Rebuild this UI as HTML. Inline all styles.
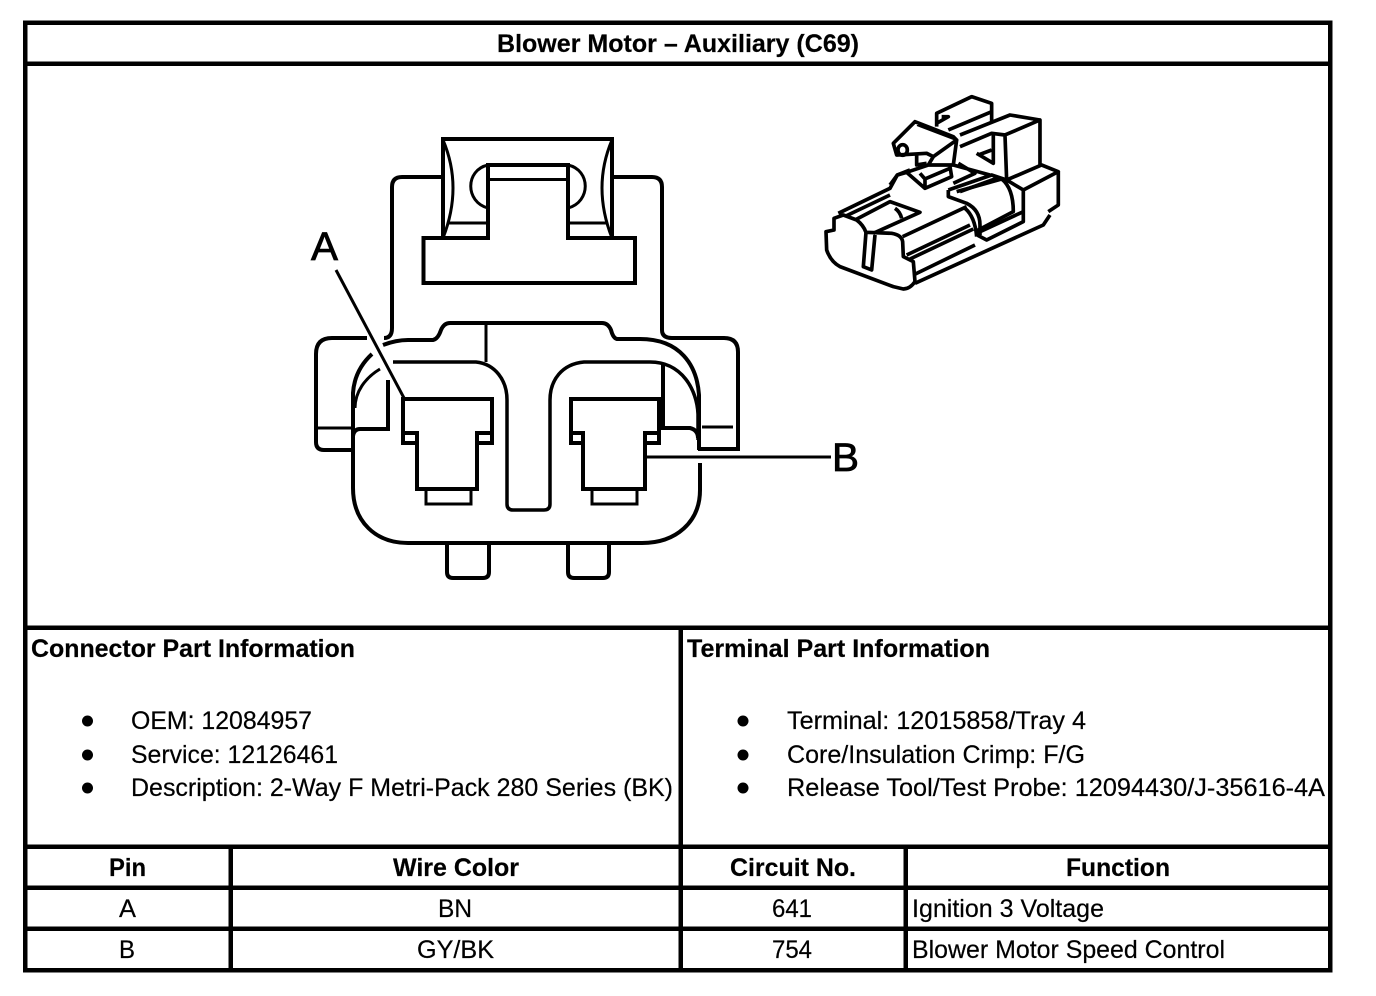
<!DOCTYPE html>
<html><head><meta charset="utf-8"><style>
html,body{margin:0;padding:0;background:#fff;width:1376px;height:996px;overflow:hidden}
svg{display:block}
text{font-family:"Liberation Sans",sans-serif;font-size:25px;fill:#000;stroke:#000;stroke-width:.2}
.b{font-weight:bold}
.f{stroke:#000;stroke-width:4.5;fill:none;shape-rendering:crispEdges}
.d path,.d rect,.d circle,.d line{fill:none;stroke:#000;stroke-width:4}
.t path,.t ellipse{fill:none;stroke:#000;stroke-width:11;stroke-linejoin:round}
</style></head><body>
<svg width="1376" height="996" viewBox="0 0 1376 996" xmlns="http://www.w3.org/2000/svg">
<!-- frame -->
<rect class="f" x="25" y="22.5" width="1305" height="947.5"/>
<path class="f" d="M25 63.5H1330M25 627.5H1330M25 846.5H1330M25 887.5H1330M25 928.5H1330M680.5 627.5V970M230.5 846.5V970M905.5 846.5V970"/>

<!-- connector front view -->
<g class="d">
<!-- latch -->
<path d="M443 238V139H612V238"/>
<path d="M443 140Q463 187 443 238M612 140Q592 187 612 238" style="stroke-width:3"/>
<path d="M423.500 238H488V165H568V238H635V283H423.500Z"/>
<path d="M488 179.500H568M448 223H488M568 223H608" style="stroke-width:3"/>
<path d="M488 165C465 170 465 202 488 208M568 165C591 170 591 202 568 208" style="stroke-width:3"/>
<!-- housing upper -->
<path d="M442 177H402Q392 177 392 187V328Q392 338 384 338M367 338H332Q316 338 316 354V442Q316 450 324 450H352"/>
<path d="M612 177H652Q662 177 662 187V330Q662 338 672 338H724Q738 338 738 352V449H698"/>
<path d="M316 428H352M702 427H733" style="stroke-width:3"/>
<!-- main body -->
<path d="M372 354C360 365 354 378 353 393V488C353 522 376 543 408 543H642C676 543 700 522 700 490V463M699 450V395C697 365 680 339 640 339H617Q613 338 611 330Q608 323 602 323H450Q444 323 441 330Q438 339 433 340H408Q396 340 383 345"/>
<path d="M486 323V362" style="stroke-width:3"/>
<!-- inner -->
<path d="M393 362H476C495 364 507 380 507 400V504Q507 510 513 510H544Q550 510 550 504V400C550 380 562 364 584 362H650C682 362 697 390 698 414V440" style="stroke-width:3.500"/>
<path d="M380 369C365 378 355 392 355 408" style="stroke-width:3"/>
<path d="M388 380V429H360Q354 429 353 436"/>
<path d="M663 365V428H690Q698 430 698 438"/>
<!-- terminals -->
<path d="M417 433H403V399H492V433H477V489H417Z"/>
<path d="M403 433V443H417M492 433V443H477"/>
<rect x="426" y="489" width="45" height="15" style="stroke-width:3"/>
<path d="M583 433H571V399H659V433H645V489H583Z"/>
<path d="M571 433V443H583M659 433V443H645"/>
<rect x="592" y="489" width="45" height="15" style="stroke-width:3"/>
<!-- tabs -->
<path d="M447 544V572Q447 578 453 578H483Q489 578 489 572V544M568 544V572Q568 578 574 578H603Q609 578 609 572V544"/>
<!-- leaders -->
<path d="M336 270L404 398" style="stroke-width:3"/>
<path d="M646 457H831" style="stroke-width:3"/>
</g>
<text x="311" y="260" style="font-size:40px;stroke-width:.8" textLength="27" lengthAdjust="spacingAndGlyphs">A</text>
<text x="832" y="471" style="font-size:40px;stroke-width:.8" textLength="27" lengthAdjust="spacingAndGlyphs">B</text>

<!-- connector 3D view -->
<g class="t" transform="translate(810 85) scale(.3333)">
<path d="M72 400L100 390L140 405Q160 420 168 442L245 445Q275 450 278 470L280 515L310 530L315 590Q300 612 280 612L250 605L90 545Q62 530 50 495L48 440L72 435Z"/>
<path d="M168 442L160 545L185 555L195 450"/>
<path d="M85 385L240 310L262 270L300 255M110 392L240 330"/>
<path d="M135 405L240 350L330 382L190 445M255 370Q270 380 275 400"/>
<path d="M278 455L470 365M290 510L480 420M300 522L490 432M310 570L495 480M315 595L700 420L720 390"/>
<path d="M415 315V335L470 355Q510 375 510 420V450M465 370Q495 395 500 455"/>
<path d="M415 315L545 270L590 285M440 320L575 282Q610 310 610 380L505 435V452L530 465L640 410V315L745 260L695 240L590 285L640 315M745 260V360L715 380"/>
<path d="M590 285L585 150L545 145L450 185M585 150L690 105V240M450 150L600 90L690 105"/>
<path d="M500 205L550 235V145M505 210L545 195"/>
<path d="M380 125V85L485 35L545 55V110M380 115L415 95H395M415 135L545 80"/>
<path d="M315 110L250 175L260 210L300 208L350 205L370 215L440 165L430 155ZM440 165L430 240M370 215L355 240M320 205V240L350 235M322 118L438 162"/>
<ellipse cx="278" cy="195" rx="14" ry="16"/>
<path d="M240 300L262 270L290 262L345 310L425 275L420 245M345 285V310M330 265L345 282L420 250M290 262L355 240H430L540 270M445 235L495 265L430 295"/>
<path d="M510 440L640 380M450 320L560 280"/>
</g>

<!-- text -->
<text class="b" x="497" y="52" textLength="362" lengthAdjust="spacingAndGlyphs">Blower Motor – Auxiliary (C69)</text>
<text class="b" x="31" y="657" textLength="324" lengthAdjust="spacingAndGlyphs">Connector Part Information</text>
<text class="b" x="687" y="657" textLength="303" lengthAdjust="spacingAndGlyphs">Terminal Part Information</text>
<g fill="#000"><circle cx="87.500" cy="721" r="5.500"/><circle cx="87.500" cy="755" r="5.500"/><circle cx="87.500" cy="788" r="5.500"/><circle cx="743" cy="721" r="5.500"/><circle cx="743" cy="755" r="5.500"/><circle cx="743" cy="788" r="5.500"/></g>
<text x="131" y="729" textLength="181" lengthAdjust="spacingAndGlyphs">OEM: 12084957</text>
<text x="131" y="763" textLength="207" lengthAdjust="spacingAndGlyphs">Service: 12126461</text>
<text x="131" y="796" textLength="542" lengthAdjust="spacingAndGlyphs">Description: 2-Way F Metri-Pack 280 Series (BK)</text>
<text x="787" y="729" textLength="299" lengthAdjust="spacingAndGlyphs">Terminal: 12015858/Tray 4</text>
<text x="787" y="763" textLength="298" lengthAdjust="spacingAndGlyphs">Core/Insulation Crimp: F/G</text>
<text x="787" y="796" textLength="538" lengthAdjust="spacingAndGlyphs">Release Tool/Test Probe: 12094430/J-35616-4A</text>
<text class="b" x="109" y="876" textLength="37" lengthAdjust="spacingAndGlyphs">Pin</text>
<text class="b" x="393" y="876" textLength="126" lengthAdjust="spacingAndGlyphs">Wire Color</text>
<text class="b" x="730" y="876" textLength="126" lengthAdjust="spacingAndGlyphs">Circuit No.</text>
<text class="b" x="1066" y="876" textLength="104" lengthAdjust="spacingAndGlyphs">Function</text>
<text x="119" y="917" textLength="17" lengthAdjust="spacingAndGlyphs">A</text>
<text x="438" y="917" textLength="34" lengthAdjust="spacingAndGlyphs">BN</text>
<text x="772" y="917" textLength="40" lengthAdjust="spacingAndGlyphs">641</text>
<text x="912" y="917" textLength="192" lengthAdjust="spacingAndGlyphs">Ignition 3 Voltage</text>
<text x="119" y="958" textLength="16" lengthAdjust="spacingAndGlyphs">B</text>
<text x="417" y="958" textLength="77" lengthAdjust="spacingAndGlyphs">GY/BK</text>
<text x="772" y="958" textLength="40" lengthAdjust="spacingAndGlyphs">754</text>
<text x="912" y="958" textLength="313" lengthAdjust="spacingAndGlyphs">Blower Motor Speed Control</text>
</svg>
</body></html>
